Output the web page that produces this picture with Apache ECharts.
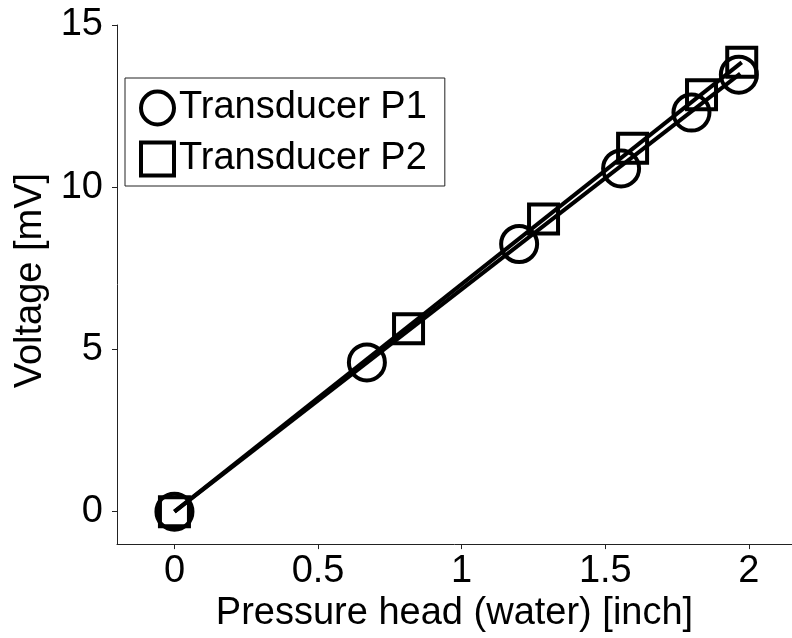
<!DOCTYPE html>
<html><head><meta charset="utf-8">
<script src="https://cdn.jsdelivr.net/npm/echarts@6/dist/echarts.min.js"></script>
<style>html,body{margin:0;padding:0;background:#fff}#c{width:792px;height:638px}</style>
</head><body><div id="c"></div>
<script>
const p1X = [0, 0.67, 1.2, 1.555, 1.80, 1.965];
const p1Y = [0, 4.6, 8.25, 10.58, 12.3, 13.47];
const p2X = [0, 0.815, 1.285, 1.595, 1.835, 1.975];
const p2Y = [0, 5.64, 9.02, 11.2, 12.85, 13.85];
const fit1X = [0, 1.97];
const fit1Y = [0, 13.5];
const fit2X = [0, 1.975];
const fit2Y = [0, 13.85];
const xTicks = [0, 0.5, 1, 1.5, 2];
const yTicks = [0, 5, 10, 15];
const seriesNames = ['Transducer P1', 'Transducer P2'];
const xTitle = 'Pressure head (water) [inch]';
const yTitle = 'Voltage [mV]';

const zip = (a, b) => a.map((v, i) => [v, b[i]]);
const font = 'Liberation Sans, Arial, Helvetica, sans-serif';
const chart = echarts.init(document.getElementById('c'));
chart.setOption({
  animation: false,
  grid: {left: 117, right: 0, top: 25, bottom: 91},
  xAxis: {
    type: 'value', min: -0.2, max: 2.15,
    name: xTitle, nameLocation: 'middle', nameGap: 46,
    nameTextStyle: {fontFamily: font, fontSize: 38, color: '#000'},
    axisLine: {show: true, onZero: false, lineStyle: {color: '#222', width: 1}},
    axisTick: {show: true, inside: false, length: 5, customValues: xTicks, lineStyle: {color: '#222'}},
    axisLabel: {customValues: xTicks, margin: 8, fontFamily: font, fontSize: 38, color: '#000',
      formatter: v => String(v)},
    splitLine: {show: false}
  },
  yAxis: {
    type: 'value', min: -1, max: 15,
    name: yTitle, nameLocation: 'middle', nameGap: 52, nameRotate: 90,
    nameTextStyle: {fontFamily: font, fontSize: 38, color: '#000', padding: [0, 0, 0, 8]},
    axisLine: {show: true, onZero: false, lineStyle: {color: '#222', width: 1}},
    axisTick: {show: true, inside: false, length: 5, customValues: yTicks, lineStyle: {color: '#222'}},
    axisLabel: {customValues: yTicks, margin: 14, fontFamily: font, fontSize: 38, color: '#000'},
    splitLine: {show: false}
  },
  legend: {
    left: 125, top: 78, orient: 'vertical',
    data: seriesNames,
    backgroundColor: '#fff',
    borderColor: '#222', borderWidth: 1, borderRadius: 0,
    padding: [11, 18, 8, 14],
    itemGap: 13, itemWidth: 33, itemHeight: 33,
    itemStyle: {color: 'rgba(255,255,255,0)', borderColor: '#000', borderWidth: 4},
    textStyle: {fontFamily: font, fontSize: 38, lineHeight: 36, color: '#000', padding: [0, 0, 0, 0]}
  },
  series: [
    {type: 'line', data: zip(fit1X, fit1Y), symbol: 'none', lineStyle: {color: '#000', width: 4}, z: 2},
    {type: 'line', data: zip(fit2X, fit2Y), symbol: 'none', lineStyle: {color: '#000', width: 4}, z: 2},
    {name: seriesNames[0], type: 'scatter', data: zip(p1X, p1Y), symbol: 'circle', symbolSize: 36,
      itemStyle: {color: 'rgba(255,255,255,0)', borderColor: '#000', borderWidth: 4, opacity: 1}, z: 3},
    {name: seriesNames[1], type: 'scatter', data: zip(p2X, p2Y), symbol: 'rect', symbolSize: 29,
      itemStyle: {color: 'rgba(255,255,255,0)', borderColor: '#000', borderWidth: 4, opacity: 1}, z: 3}
  ]
});
</script></body></html>
